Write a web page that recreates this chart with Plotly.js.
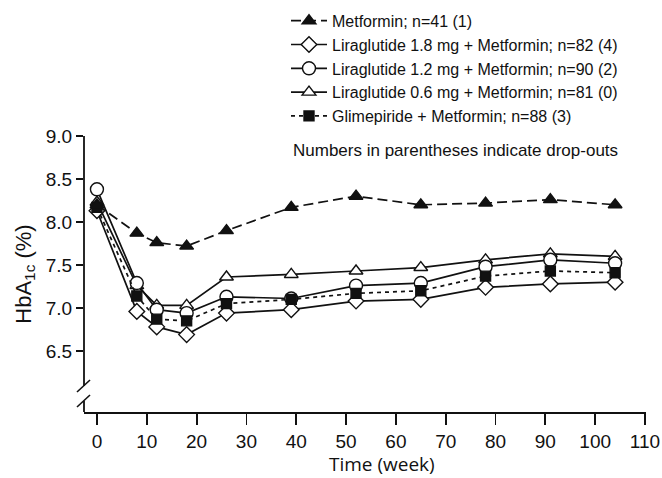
<!DOCTYPE html>
<html>
<head>
<meta charset="utf-8">
<script src="https://cdn.plot.ly/plotly-3.0.1.min.js"></script>
<style>html,body{margin:0;padding:0;background:#fff;}#chart{width:662px;height:478px;}</style>
</head>
<body>
<div id="chart"></div>
<script>
const weeks = [0, 8, 12, 18, 26, 39, 52, 65, 78, 91, 104];
const metformin = [8.20, 7.87, 7.76, 7.72, 7.90, 8.17, 8.30, 8.20, 8.22, 8.26, 8.20];
const lira18 = [8.13, 6.96, 6.78, 6.69, 6.94, 6.98, 7.08, 7.10, 7.24, 7.28, 7.30];
const lira12 = [8.38, 7.29, 6.98, 6.94, 7.13, 7.11, 7.26, 7.29, 7.48, 7.56, 7.52];
const lira06 = [8.23, 7.26, 7.03, 7.03, 7.36, 7.39, 7.43, 7.47, 7.56, 7.63, 7.60];
const glim = [8.17, 7.14, 6.87, 6.85, 7.05, 7.10, 7.17, 7.20, 7.37, 7.43, 7.41];
const names = [
  "Metformin; n=41 (1)",
  "Liraglutide 1.8 mg + Metformin; n=82 (4)",
  "Liraglutide 1.2 mg + Metformin; n=90 (2)",
  "Liraglutide 0.6 mg + Metformin; n=81 (0)",
  "Glimepiride + Metformin; n=88 (3)"
];
const yTicks = [6.5, 7.0, 7.5, 8.0, 8.5, 9.0];
const xTicks = [0, 10, 20, 30, 40, 50, 60, 70, 80, 90, 100, 110];

const FONT = "Arial, 'Liberation Sans', sans-serif";
const K = "#111";
function tr(y, name, sym, size, fill, dash, rank) {
  return {
    x: weeks, y: y, name: name, type: "scatter", mode: "lines+markers",
    line: {color: K, width: 1.7, dash: dash},
    marker: {symbol: sym, size: size, color: fill, line: {color: K, width: 1.4}},
    legendrank: rank, legendgroup: "g" + rank
  };
}
const data = [
  tr(lira06, names[3], "triangle-up", 12, "#fff", "solid", 4),
  tr(lira12, names[2], "circle", 13, "#fff", "solid", 3),
  tr(lira18, names[1], "diamond", 12, "#fff", "solid", 2),
  tr(glim, names[4], "square", 10, K, "4px,4px", 5),
  tr(metformin, names[0], "triangle-up", 12, K, "10px,5px", 1)
];

// geometry helpers for axis break (paper coords)
const L = 84, R = 646, T = 136, B = 412;
const W = R - L, H = B - T;
function px(x) { return (x - L) / W; }
function py(y) { return (B - y) / H; }

const shapes = [
  {type: "line", xref: "paper", yref: "paper", x0: 0, x1: 0, y0: 1, y1: py(386), line: {color: K, width: 1.8}},
  {type: "line", xref: "paper", yref: "paper", x0: 0, x1: 0, y0: py(401), y1: 0, line: {color: K, width: 1.8}},
  {type: "line", xref: "paper", yref: "paper", x0: px(77), x1: px(90), y0: py(392), y1: py(380), line: {color: K, width: 1.6}},
  {type: "line", xref: "paper", yref: "paper", x0: px(77), x1: px(90), y0: py(407), y1: py(395), line: {color: K, width: 1.6}}
];

const layout = {
  width: 662, height: 478,
  margin: {l: L, r: 662 - R, t: T, b: 478 - B, pad: 0, autoexpand: false},
  paper_bgcolor: "#fff", plot_bgcolor: "#fff",
  font: {family: FONT, color: K, size: 16},
  showlegend: true,
  legend: {
    x: px(286), y: 0.992, xref: "paper", yref: "container", xanchor: "left", yanchor: "top",
    font: {family: FONT, size: 16, color: K}, itemwidth: 36,
    bgcolor: "rgba(0,0,0,0)", tracegroupgap: 0, traceorder: "grouped"
  },
  xaxis: {
    range: [-2.6, 110.2], tickvals: xTicks, ticktext: xTicks.map(String),
    showgrid: false, zeroline: false, showline: true, linecolor: K, linewidth: 1.8,
    ticks: "outside", ticklen: 11, tickwidth: 1.8, tickcolor: K,
    tickfont: {family: FONT, size: 19, color: K}
  },
  yaxis: {
    range: [5.79, 9.0], tickvals: yTicks, ticktext: yTicks.map(v => v.toFixed(1)),
    showgrid: false, zeroline: false, showline: false,
    ticks: "outside", ticklen: 7, tickwidth: 1.8, tickcolor: K,
    tickfont: {family: FONT, size: 19, color: K},
    title: {text: "HbA<sub>1c</sub> (%)", font: {family: FONT, size: 22, color: K}, standoff: 8}
  },
  shapes: shapes,
  annotations: [
    {text: "Numbers in parentheses indicate drop-outs", xref: "paper", yref: "paper",
     x: px(291), y: py(150), xanchor: "left", yanchor: "middle", showarrow: false,
     font: {family: FONT, size: 17, color: K}},
    {text: "Time (week)", xref: "paper", yref: "paper",
     x: px(382), y: py(464), xanchor: "center", yanchor: "middle", showarrow: false,
     borderpad: 0, font: {family: "'Open Sans', sans-serif", size: 19, color: K}}
  ]
};
Plotly.newPlot("chart", data, layout, {displayModeBar: false, staticPlot: true});
</script>
</body>
</html>
